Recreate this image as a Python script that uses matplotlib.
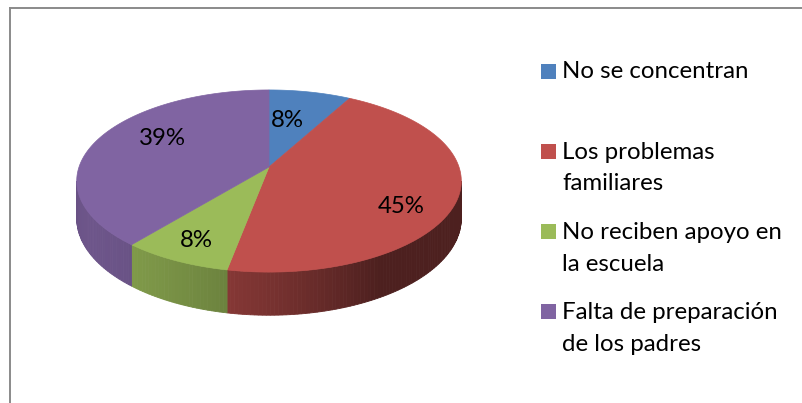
import numpy as np
import matplotlib.pyplot as plt
from matplotlib.patches import Rectangle
from matplotlib.colors import to_rgb

labels = ['No se concentran', 'Los problemas\nfamiliares',
          'No reciben apoyo en\nla escuela', 'Falta de preparación\nde los padres']
values = [8, 45, 8, 39]
colors = ['#4F81BD', '#C0504D', '#9BBB59', '#8064A2']

# where each percentage sits: fraction of the radius and angular nudge (deg)
label_r = [0.60, 0.77, 0.80, 0.69]
label_shift = [-4, 12, 0, 11]

plt.rcParams['font.family'] = ['Lato', 'DejaVu Sans']
FS = 17.3

# perspective disk: centre, radii, perspective strength, thickness
cx, cy = 269, 167
rx, ry = 190, 88.9
k = 0.154
depth = 36.5


def project(phi, r=1.0):
    # phi measured clockwise from 12 o'clock
    u = r * np.sin(phi)
    v = -r * np.cos(phi)
    s = 1 / (1 - k * v)
    return cx + rx * u * s, cy + ry * v * s, s


def side_shade(phi):
    return 0.40 + 0.45 * max(0.0, np.cos(phi - np.radians(240)))


fig = plt.figure(figsize=(8.02, 4.03), dpi=100)
ax = fig.add_axes([0, 0, 1, 1])
ax.set_xlim(0, 802)
ax.set_ylim(403, 0)
ax.axis('off')

bounds = np.concatenate([[0], np.cumsum(values)]) / sum(values) * 2 * np.pi

# visible part of the rim
phi_lo = np.pi / 2 + np.arcsin(k)
phi_hi = 3 * np.pi / 2 - np.arcsin(k)

for i, col in enumerate(colors):
    a0 = max(bounds[i], phi_lo)
    a1 = min(bounds[i + 1], phi_hi)
    if a1 <= a0:
        continue
    base = np.array(to_rgb(col))
    steps = np.linspace(a0, a1, max(3, int(np.degrees(a1 - a0)) + 1))
    for p0, p1 in zip(steps[:-1], steps[1:]):
        x0, y0, s0 = project(p0)
        x1, y1, s1 = project(p1)
        c = np.clip(base * side_shade((p0 + p1) / 2), 0, 1)
        ax.fill([x0, x1, x1, x0], [y0, y1, y1 + depth * s1, y0 + depth * s0],
                color=c, ec=c, lw=0.6)

# top face
for i, col in enumerate(colors):
    arc = np.linspace(bounds[i], bounds[i + 1], 120)
    xs, ys, _ = project(arc)
    ax.fill(np.r_[cx, xs], np.r_[cy, ys], color=col, ec=col, lw=0.5)

for i, v in enumerate(values):
    mid = (bounds[i] + bounds[i + 1]) / 2 + np.radians(label_shift[i])
    x, y, _ = project(mid, label_r[i])
    ax.text(x, y + 8, f'{v}%', ha='center', va='baseline',
            fontsize=FS, color='black')

# legend
leg_x, leg_y0, item_gap, line_gap = 541, 78.5, 80.3, 31.5
for i, (lab, col) in enumerate(zip(labels, colors)):
    yb = leg_y0 + i * item_gap
    ax.add_patch(Rectangle((leg_x, yb - 15), 15, 15, color=col, lw=0))
    for j, line in enumerate(lab.split('\n')):
        ax.text(leg_x + 21, yb + j * line_gap, line, ha='left', va='baseline',
                fontsize=FS, color='black')

# chart frame
ax.plot([8.5, 802], [7.5, 7.5], color='#8a8a8a', lw=1.4, solid_capstyle='butt')
ax.plot([9.5, 9.5], [7, 403], color='#8a8a8a', lw=1.4, solid_capstyle='butt')

fig.savefig('out.png', dpi=100)
